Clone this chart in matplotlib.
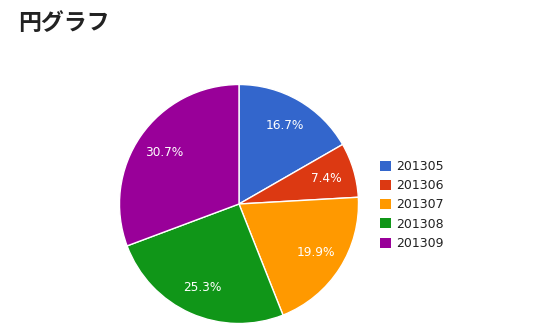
import matplotlib
matplotlib.use("Agg")
import matplotlib.pyplot as plt
from matplotlib.patches import Patch

categories = ["201305", "201306", "201307", "201308", "201309"]
values = [16.7, 7.4, 19.9, 25.3, 30.7]
colors = ["#3366cc", "#dc3912", "#ff9900", "#109618", "#990099"]

plt.rcParams['font.family'] = ['DejaVu Sans']
fig = plt.figure(figsize=(5.46, 3.32), dpi=100)
W, H = 546, 332
cx, cy, r = 239, 204, 119.5
ax = fig.add_axes([(cx - r) / W, (H - cy - r) / H, 2 * r / W, 2 * r / H])
wedges, texts, autotexts = ax.pie(values, colors=colors, startangle=90, counterclock=False,
       autopct='%1.1f%%', pctdistance=0.76,
       wedgeprops=dict(edgecolor='white', linewidth=1),
       textprops=dict(color='white', fontsize=8.7))
ax.set_xlim(-1, 1)
ax.set_ylim(-1, 1)
ax.set_aspect('equal')
ax.axis('off')

fig.text(18 / W, 1 - 24 / H, "円グラフ", fontsize=16.5, fontweight='bold', color='#222222',
         family=['Noto Sans CJK JP', 'DejaVu Sans'], va='center', ha='left')

handles = [Patch(facecolor=c, edgecolor='none') for c in colors]
leg = fig.legend(handles, categories, loc='upper left', bbox_to_anchor=(380 / W, 1 - 160 / H),
                 frameon=False, fontsize=9, handlelength=0.85, handleheight=0.85,
                 handletextpad=0.45, labelspacing=0.5, borderpad=0, borderaxespad=0)
for t in leg.get_texts():
    t.set_color('#222222')

fig.savefig("out.png", dpi=100)
